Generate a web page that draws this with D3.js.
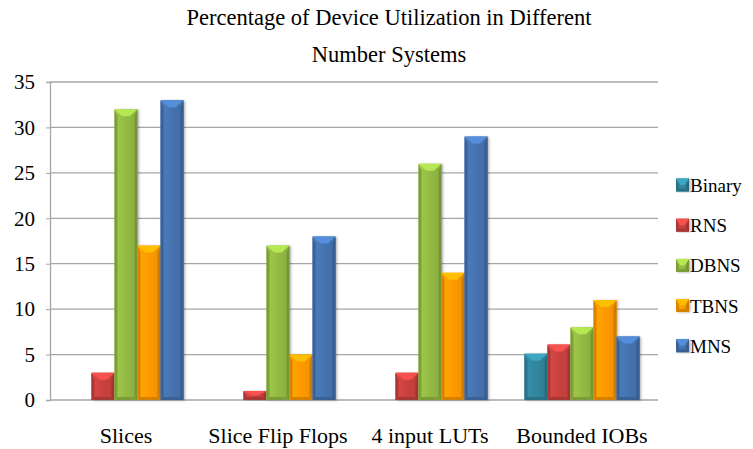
<!DOCTYPE html>
<html><head><meta charset="utf-8">
<script src="https://cdn.jsdelivr.net/npm/d3@7"></script>
<style>body{margin:0;background:#fff}svg{display:block}text{font-family:"Liberation Serif","Times New Roman",serif;fill:#000}</style>
</head><body><svg id="c" width="753" height="449"></svg>
<script>
const categories = ["Slices", "Slice Flip Flops", "4 input LUTs", "Bounded IOBs"];
const seriesNames = ["Binary", "RNS", "DBNS", "TBNS", "MNS"];
const binary = [0, 0, 0, 5.1];
const rns = [3, 1, 3, 6.1];
const dbns = [32, 17, 26, 8];
const tbns = [17, 5, 14, 11];
const mns = [33, 18, 29, 7];
const yTicks = [0, 5, 10, 15, 20, 25, 30, 35];
const titleLines = ["Percentage of Device Utilization in Different", "Number Systems"];
const colors = ["#31869c", "#c8423f", "#93bb44", "#ff9a00", "#4573b0"];

const series = [binary, rns, dbns, tbns, mns];
const svg = d3.select("#c");
const m = {l: 50, r: 95, t: 82, b: 49};
const W = 753, H = 449;
const x0 = d3.scaleBand().domain(categories).range([m.l, W - m.r]).paddingInner(0).paddingOuter(0);
const x1 = d3.scaleBand().domain(seriesNames).range([0, x0.bandwidth()]).paddingOuter(0.8).paddingInner(0);
const y = d3.scaleLinear().domain([0, 35]).range([H - m.b, m.t]);

// title
svg.selectAll("text.title").data(titleLines).join("text").attr("class", "title")
  .attr("x", 389).attr("y", (d, i) => 25 + i * 37).attr("text-anchor", "middle")
  .style("font-size", "22.5px").text(d => d);

// grid
svg.append("g").selectAll("line").data(yTicks).join("line")
  .attr("x1", m.l).attr("x2", W - m.r).attr("y1", d => y(d)).attr("y2", d => y(d))
  .attr("stroke", "#a6a6a6").attr("stroke-width", 1.3);
// axis
const ax = svg.append("g").attr("transform", `translate(${m.l},0)`)
  .call(d3.axisLeft(y).tickValues(yTicks).tickSize(4).tickPadding(11));
ax.select(".domain").attr("stroke", "#a6a6a6").attr("stroke-width", 1.3);
ax.selectAll(".tick line").attr("stroke", "#a6a6a6");
ax.selectAll(".tick text").style("font-size", "21px").style("font-family", '"Liberation Serif",serif');

// x labels
svg.append("g").selectAll("text").data(categories).join("text")
  .attr("x", d => x0(d) + x0.bandwidth() / 2).attr("y", 443).attr("text-anchor", "middle")
  .style("font-size", "22px").text(d => d);

// defs
const defs = svg.append("defs");
const f = defs.append("filter").attr("id", "sh").attr("x", "-30%").attr("y", "-10%").attr("width", "160%").attr("height", "120%");
f.append("feDropShadow").attr("dx", 1.5).attr("dy", 0.5).attr("stdDeviation", 1.2).attr("flood-color", "#000").attr("flood-opacity", 0.3);
colors.forEach((c, i) => {
  const g = defs.append("linearGradient").attr("id", "g" + i).attr("x1", 0).attr("x2", 1).attr("y1", 0).attr("y2", 0);
  g.append("stop").attr("offset", 0).attr("stop-color", d3.color(c).brighter(0.25));
  g.append("stop").attr("offset", 0.5).attr("stop-color", c);
  g.append("stop").attr("offset", 1).attr("stop-color", d3.color(c).darker(0.2));
});

function bevel(g, x, yy, w, h, i) {
  const c = colors[i];
  const b = Math.min(3, h / 2), bt = Math.min(7, h / 2);
  g.append("rect").attr("x", x).attr("y", yy).attr("width", w).attr("height", h)
    .attr("fill", `url(#g${i})`).attr("filter", "url(#sh)");
  g.append("polygon").attr("points", [[x, yy], [x + b, yy + bt], [x + b, yy + h - b], [x, yy + h]].join(" "))
    .attr("fill", d3.color(c).darker(0.45));
  g.append("polygon").attr("points", [[x + w, yy], [x + w - b, yy + bt], [x + w - b, yy + h - b], [x + w, yy + h]].join(" "))
    .attr("fill", d3.color(c).darker(0.6));
  g.append("polygon").attr("points", [[x, yy + h], [x + b, yy + h - b], [x + w - b, yy + h - b], [x + w, yy + h]].join(" "))
    .attr("fill", d3.color(c).darker(0.5));
  g.append("polygon").attr("points", [[x, yy], [x + w, yy], [x + w * 0.66, yy + bt], [x + w * 0.34, yy + bt]].join(" "))
    .attr("fill", d3.color(c).brighter(0.6));
}

const bars = svg.append("g");
categories.forEach((cat, ci) => {
  seriesNames.forEach((s, si) => {
    const v = series[si][ci];
    if (!v) return;
    const x = x0(cat) + x1(s), w = x1.bandwidth();
    bevel(bars, x, y(v), w, y(0) - y(v), si);
  });
});

// legend
const lg = svg.append("g");
seriesNames.forEach((s, i) => {
  const cy = 185 + i * 40.2;
  bevel(lg, 676, cy - 6.5, 13, 13, i);
  lg.append("text").attr("x", 690).attr("y", cy + 7).style("font-size", "19px").text(s);
});
</script></body></html>
